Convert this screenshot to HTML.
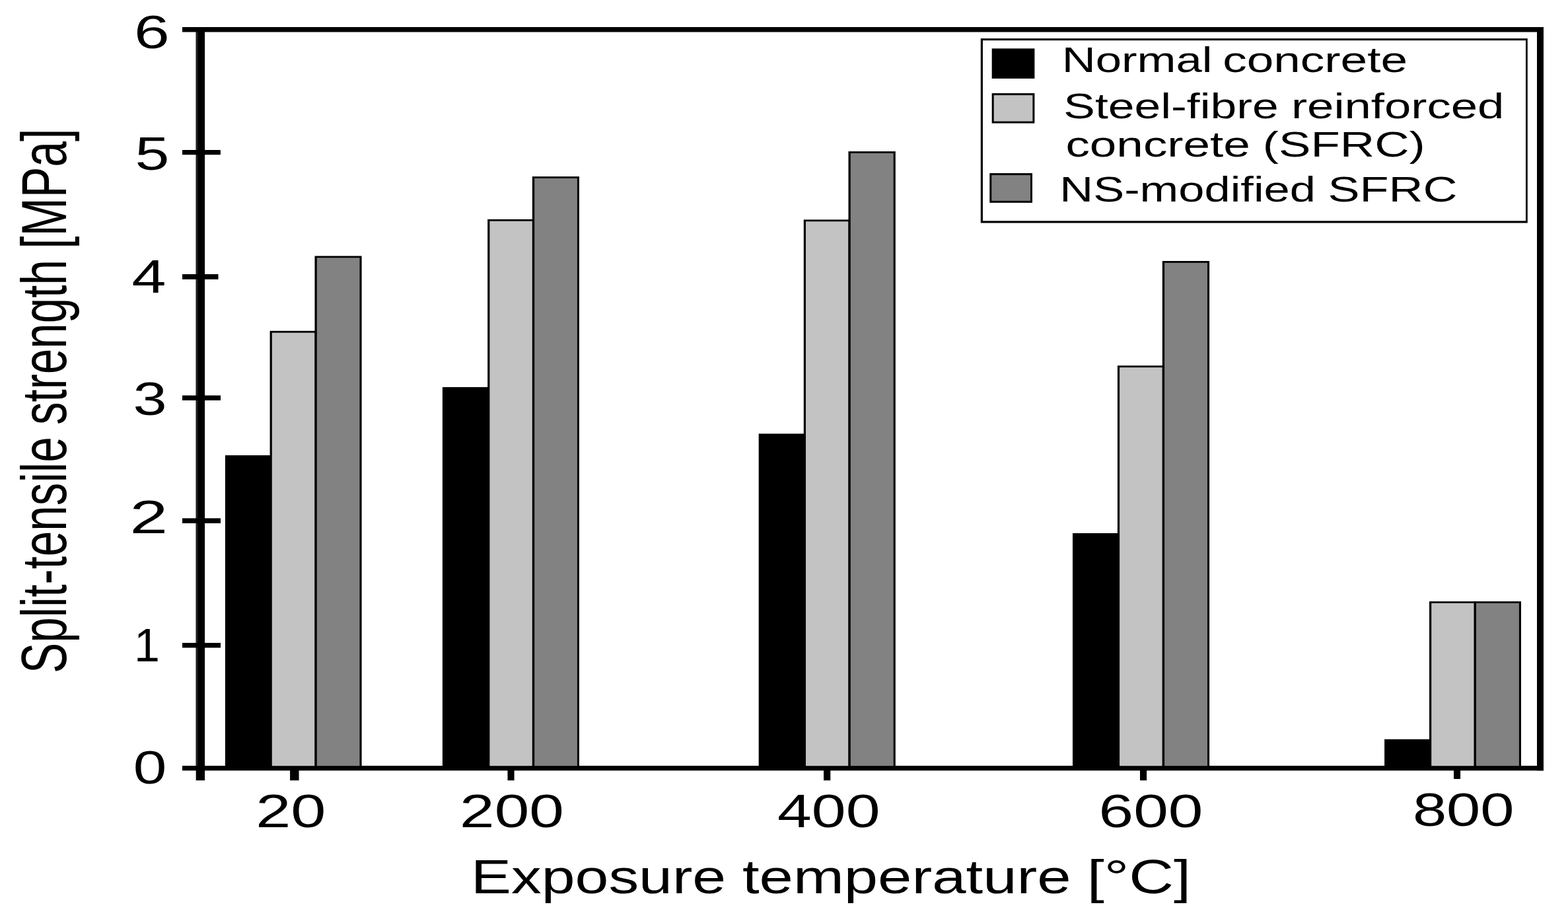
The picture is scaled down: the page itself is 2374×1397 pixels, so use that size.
<!DOCTYPE html>
<html lang="en">
<head>
<meta charset="utf-8">
<title>Split-tensile strength vs exposure temperature</title>
<style>
html,body{margin:0;padding:0;background:#fff;}
body{width:2374px;height:1397px;overflow:hidden;}
svg{display:block;}
text{white-space:pre;}
</style>
</head>
<body>
<svg width="2374" height="1397" viewBox="0 0 2374 1397">
<rect x="0" y="0" width="2374" height="1397" fill="#fff"/>
<g id="frame">
<rect x="276.00" y="41.00" width="2061.00" height="7.50" fill="#000"/>
<rect x="276.00" y="1159.00" width="2061.00" height="7.30" fill="#000"/>
<rect x="296.70" y="41.00" width="13.40" height="1140.20" fill="#000"/>
<rect x="296.70" y="48.50" width="2.90" height="1110.50" fill="#231f20"/>
<rect x="2327.00" y="41.00" width="10.00" height="1125.30" fill="#000"/>
<rect x="276.00" y="227.00" width="57.90" height="7.20" fill="#000"/>
<rect x="276.00" y="415.00" width="54.50" height="7.80" fill="#000"/>
<rect x="276.00" y="598.50" width="58.00" height="7.50" fill="#000"/>
<rect x="276.00" y="784.40" width="58.00" height="7.60" fill="#000"/>
<rect x="276.00" y="973.00" width="58.00" height="7.40" fill="#000"/>
<rect x="439.10" y="1165.80" width="13.50" height="15.40" fill="#000"/>
<rect x="768.50" y="1165.80" width="10.10" height="15.40" fill="#000"/>
<rect x="1247.10" y="1165.80" width="10.20" height="15.40" fill="#000"/>
<rect x="1726.00" y="1165.80" width="10.10" height="15.40" fill="#000"/>
<rect x="2201.00" y="1165.80" width="10.10" height="13.20" fill="#000"/>
</g>
<g id="bars">
<rect x="340.90" y="689.10" width="70.90" height="470.10" fill="#000"/>
<rect x="408.60" y="500.80" width="71.10" height="658.40" fill="#000"/>
<rect x="411.80" y="503.60" width="64.70" height="655.60" fill="#c3c3c3"/>
<rect x="476.50" y="387.40" width="71.10" height="771.80" fill="#000"/>
<rect x="479.80" y="390.20" width="64.70" height="769.00" fill="#828282"/>
<rect x="669.90" y="585.90" width="71.50" height="573.30" fill="#000"/>
<rect x="738.20" y="331.90" width="70.90" height="827.30" fill="#000"/>
<rect x="741.40" y="334.70" width="64.50" height="824.50" fill="#c3c3c3"/>
<rect x="805.90" y="267.10" width="71.10" height="892.10" fill="#000"/>
<rect x="809.20" y="269.90" width="64.70" height="889.30" fill="#828282"/>
<rect x="1148.70" y="656.40" width="71.30" height="502.80" fill="#000"/>
<rect x="1216.80" y="332.40" width="70.90" height="826.80" fill="#000"/>
<rect x="1220.00" y="335.20" width="64.50" height="824.00" fill="#c3c3c3"/>
<rect x="1284.50" y="229.10" width="71.30" height="930.10" fill="#000"/>
<rect x="1287.80" y="231.90" width="64.90" height="927.30" fill="#828282"/>
<rect x="1624.00" y="807.00" width="71.10" height="352.20" fill="#000"/>
<rect x="1691.90" y="553.30" width="71.10" height="605.90" fill="#000"/>
<rect x="1695.10" y="556.10" width="64.70" height="603.10" fill="#c3c3c3"/>
<rect x="1759.80" y="395.00" width="71.30" height="764.20" fill="#000"/>
<rect x="1763.10" y="397.80" width="64.90" height="761.40" fill="#828282"/>
<rect x="2096.10" y="1118.90" width="71.10" height="40.30" fill="#000"/>
<rect x="2164.00" y="910.20" width="70.90" height="249.00" fill="#000"/>
<rect x="2167.20" y="913.00" width="64.50" height="246.20" fill="#c3c3c3"/>
<rect x="2231.70" y="910.20" width="71.30" height="249.00" fill="#000"/>
<rect x="2235.00" y="913.00" width="64.90" height="246.20" fill="#828282"/>
</g>
<g id="legend">
<rect x="1484.80" y="58.20" width="828.00" height="279.30" fill="#000"/>
<rect x="1488.00" y="61.20" width="822.00" height="273.10" fill="#fff"/>
<rect x="1501.70" y="73.40" width="64.70" height="45.50" fill="#000"/>
<rect x="1501.70" y="141.10" width="64.70" height="45.50" fill="#000"/><rect x="1504.70" y="144.10" width="58.70" height="39.50" fill="#c3c3c3"/>
<rect x="1498.30" y="262.10" width="64.70" height="44.80" fill="#000"/><rect x="1501.30" y="265.10" width="58.70" height="38.80" fill="#828282"/>
</g>
<g id="labels" font-family="'Liberation Sans', Arial, Helvetica, sans-serif" fill="#000">
<g id="yticks">
<text transform="translate(202.97 72.90) scale(1.3709 1)" font-size="70.5">6</text>
<text transform="translate(204.57 256.50) scale(1.3229 1)" font-size="70.5">5</text>
<text transform="translate(199.50 442.70) scale(1.3229 1)" font-size="70.5">4</text>
<text transform="translate(201.55 628.10) scale(1.3050 1)" font-size="70.5">3</text>
<text transform="translate(196.42 806.80) scale(1.4683 1)" font-size="70.5">2</text>
<text transform="translate(203.05 1000.50) scale(0.9937 1)" font-size="70.5">1</text>
<text transform="translate(201.66 1185.70) scale(1.2892 1)" font-size="70.5">0</text>
</g>
<g id="xticks">
<text transform="translate(387.22 1251.70) scale(1.3553 1)" font-size="70.5">20</text>
<text transform="translate(696.07 1251.70) scale(1.3412 1)" font-size="70.5">200</text>
<text transform="translate(1177.00 1251.70) scale(1.3218 1)" font-size="70.5">400</text>
<text transform="translate(1663.57 1251.70) scale(1.3421 1)" font-size="70.5">600</text>
<text transform="translate(2138.88 1249.50) scale(1.3072 1)" font-size="70.5">800</text>
</g>
<g id="xlabel">
<text transform="translate(713.06 1351.80) scale(1.2786 1)" font-size="71.5">Exposure</text>
<text transform="translate(1123.92 1351.80) scale(1.2912 1)" font-size="71.5">temperature</text>
<text transform="translate(1645.69 1351.80) scale(1.3130 1)" font-size="71.5">[°C]</text>
</g>
<g id="legendtext">
<text transform="translate(1607.67 108.90) scale(1.3097 1)" font-size="54.0">Normal</text>
<text transform="translate(1851.30 108.90) scale(1.3506 1)" font-size="54.0">concrete</text>
<text transform="translate(1610.29 178.80) scale(1.3228 1)" font-size="54.0">Steel-fibre</text>
<text transform="translate(1954.90 178.80) scale(1.3433 1)" font-size="54.0">reinforced</text>
<text transform="translate(1613.40 236.80) scale(1.3496 1)" font-size="54.0">concrete</text>
<text transform="translate(1911.86 236.80) scale(1.3441 1)" font-size="54.0">(SFRC)</text>
<text transform="translate(1604.29 304.90) scale(1.3048 1)" font-size="54.0">NS-modified</text>
<text transform="translate(2010.46 304.90) scale(1.3340 1)" font-size="54.0">SFRC</text>
</g>
<g id="ylabel">
<text transform="translate(99.70 1019.01) rotate(-90) scale(0.7133 1)" font-size="97.0">Split-tensile</text>
<text transform="translate(99.70 643.00) rotate(-90) scale(0.7134 1)" font-size="97.0">strength</text>
<text transform="translate(99.70 376.86) rotate(-90) scale(0.7200 1)" font-size="97.0">[MPa]</text>
</g>
</g>
</svg>
</body>
</html>
